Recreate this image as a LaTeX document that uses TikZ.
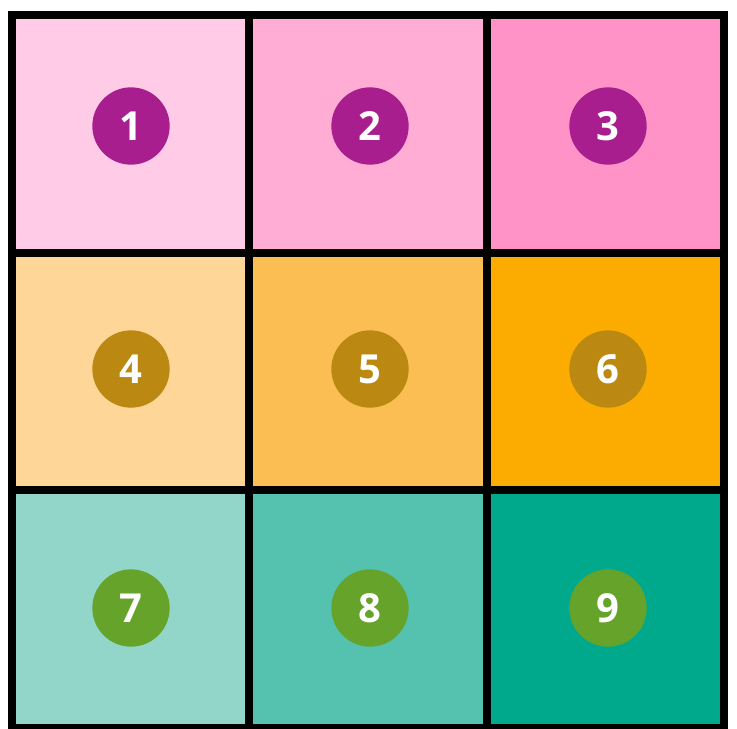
\documentclass[tikz,border=0pt]{standalone}
\usepackage{fontspec}
\setmainfont{Open Sans}
\usepackage{xcolor}
\usepackage{tikz}
\usetikzlibrary{positioning,calc}
\definecolor{P1}{HTML}{FFCBE6}
\definecolor{P2}{HTML}{FFADD4}
\definecolor{P3}{HTML}{FF92C7}
\definecolor{O1}{HTML}{FDD698}
\definecolor{O2}{HTML}{FBBE53}
\definecolor{O3}{HTML}{FCAB00}
\definecolor{G1}{HTML}{92D6C9}
\definecolor{G2}{HTML}{54C2AE}
\definecolor{G3}{HTML}{00A98C}
\definecolor{Pdot}{HTML}{A81E8E}
\definecolor{Odot}{HTML}{BB8912}
\definecolor{Gdot}{HTML}{66A32A}

\begin{document}
\begin{tikzpicture}[x=0.75pt,y=-0.75pt,
  cell/.style={draw=black, line width=6pt, minimum width=178pt, minimum height=178pt, inner sep=0pt, outer sep=0pt},
  dot/.style={circle, minimum size=58pt, inner sep=0pt, text=white, font=\fontsize{30}{30}\selectfont\bfseries}]
  \useasboundingbox (0,0) rectangle (737,728);
  \clip (0,0) rectangle (737,728);
  % cells
  \foreach \r/\row in {0/1,1/2,2/3}{%
    \foreach \c/\col in {0/1,1/2,2/3}{%
      \pgfmathtruncatemacro{\k}{3*\r+\c+1}%
      \ifcase\r \def\fam{P}\or \def\fam{O}\or \def\fam{G}\fi
      \node[cell, fill=\fam\col] (c\k) at ({130.5+237.5*\c},{134+237.5*\r}) {};
    }%
  }
  % numbered dots
  \node[dot, fill=Pdot] (n1) at (131,126) {1};
  \node[dot, fill=Pdot] (n2) at (370,126) {2};
  \node[dot, fill=Pdot] (n3) at (608,126) {3};
  \node[dot, fill=Odot] (n4) at (131,369) {4};
  \node[dot, fill=Odot] (n5) at (370,369) {5};
  \node[dot, fill=Odot] (n6) at (608,369) {6};
  \node[dot, fill=Gdot] (n7) at (131,608) {7};
  \node[dot, fill=Gdot] (n8) at (370,608) {8};
  \node[dot, fill=Gdot] (n9) at (608,608) {9};
\end{tikzpicture}
\end{document}
